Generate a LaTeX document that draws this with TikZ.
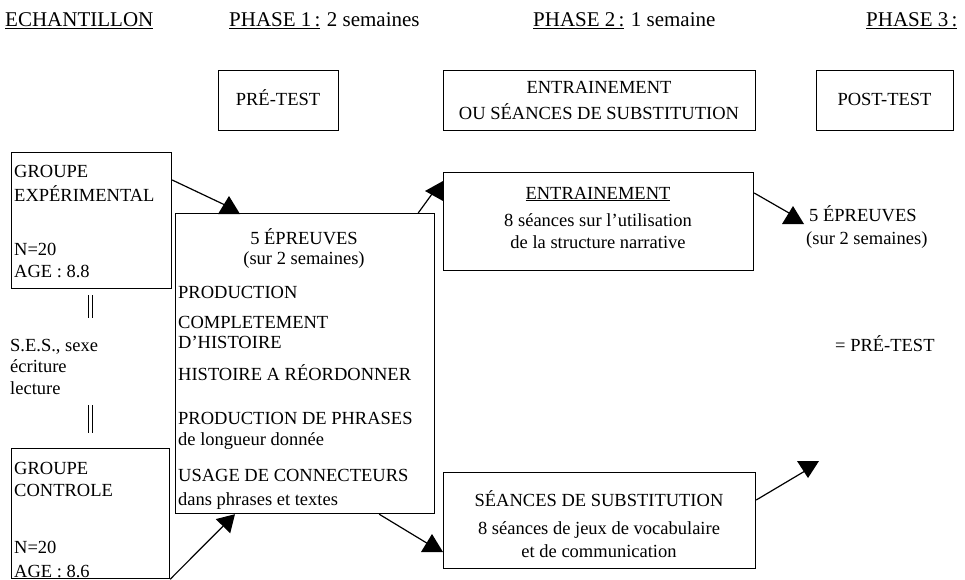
\documentclass[tikz,border=0pt]{standalone}
\usepackage{fontspec}
\setmainfont{Liberation Serif}
\usetikzlibrary{arrows.meta,calc}
\begin{document}
\begin{tikzpicture}[x=1pt,y=-1pt,
  box/.style={draw,line width=1.2pt,inner sep=0pt,anchor=north west},
  txt/.style={inner sep=0pt,anchor=base west,font=\fontsize{18.5}{20}\selectfont},
  ctxt/.style={inner sep=0pt,anchor=base,font=\fontsize{18.5}{20}\selectfont},
  ttl/.style={inner sep=0pt,anchor=base west,font=\fontsize{21}{25}\selectfont},
  ln/.style={line width=1.2pt},
  arr/.style={line width=1.2pt,-{Triangle[length=17pt,width=20pt]}},
  dbl/.style={line width=0.8pt},
  uptri/.pic={\fill (-11,0) -- (11,0) -- (0,-18) -- cycle;},
  dntri/.pic={\fill (-11,0) -- (11,0) -- (0,17) -- cycle;},
  lftri/.pic={\fill (0,-10) -- (0,10) -- (-18,0) -- cycle;}]
\useasboundingbox (0,0) rectangle (965,580);
% titles
\node[ttl] (t0) at (5,27) {\underline{ECHANTILLON}};
\node[ttl] (t1) at (229,27) {\underline{PHASE 1\hspace{0.15em}:}};
\node[ttl,anchor=base west] (t1b) at ([xshift=6pt]t1.base east) {2 semaines};
\node[ttl] (t2) at (533,27) {\underline{PHASE 2\hspace{0.15em}:}};
\node[ttl,anchor=base west] (t2b) at ([xshift=6pt]t2.base east) {1 semaine};
\node[ttl] (t3) at (866,27) {\underline{PHASE 3\hspace{0.15em}:}};
% top boxes
\node[box,minimum width=120pt,minimum height=60pt] (pre) at (218,70) {};
\node[ctxt] (pret) at (278,106) {PRÉ-TEST};
\node[box,minimum width=312pt,minimum height=60pt] (eo) at (443,70) {};
\node[ctxt] (eot1) at (599,94) {ENTRAINEMENT};
\node[ctxt] (eot2) at (599,120) {OU SÉANCES DE SUBSTITUTION};
\node[box,minimum width=137pt,minimum height=60pt] (post) at (816,70) {};
\node[ctxt] (postt) at (884.5,106) {POST-TEST};
% experimental group
\node[box,minimum width=160pt,minimum height=136pt] (exp) at (11,152) {};
\node[txt] (e1) at (14,178) {GROUPE};
\node[txt] (e2) at (14,201) {EXPÉRIMENTAL};
\node[txt] (e3) at (14,255) {N=20};
\node[txt] (e4) at (14,277) {AGE : 8.8};
\draw[dbl] (88,295) -- (88,318) (92,295) -- (92,318);
\node[txt] (s1) at (10,351) {S.E.S., sexe};
\node[txt] (s2) at (10,372) {écriture};
\node[txt] (s3) at (10,394) {lecture};
\draw[dbl] (88,405) -- (88,433) (92,405) -- (92,433);
% control group
\node[box,minimum width=158pt,minimum height=130pt] (ctl) at (11,448) {};
\node[txt] (c1) at (14,474) {GROUPE};
\node[txt] (c2) at (14,496) {CONTROLE};
\node[txt] (c3) at (14,553) {N=20};
\node[txt] (c4) at (14,577) {AGE : 8.6};
% pre-test tasks
\node[box,minimum width=259pt,minimum height=300pt] (big) at (175,213) {};
\node[ctxt] (b1) at (304,244) {5 ÉPREUVES};
\node[ctxt] (b2) at (304,264) {(sur 2 semaines)};
\node[txt] (b3) at (178,298) {PRODUCTION};
\node[txt] (b4) at (178,328) {COMPLETEMENT};
\node[txt] (b5) at (178,348) {D'HISTOIRE};
\node[txt] (b6) at (178,380) {HISTOIRE A RÉORDONNER};
\node[txt] (b7) at (178,424) {PRODUCTION DE PHRASES};
\node[txt] (b8) at (178,445) {de longueur donnée};
\node[txt] (b9) at (178,481) {USAGE DE CONNECTEURS};
\node[txt] (b10) at (178,505) {dans phrases et textes};
% training
\node[box,minimum width=310pt,minimum height=98pt] (ent) at (443,172) {};
\node[ctxt] (n1) at (598,199) {\underline{ENTRAINEMENT}};
\node[ctxt] (n2) at (598,226) {8 séances sur l'utilisation};
\node[ctxt] (n3) at (598,248) {de la structure narrative};
% substitution
\node[box,minimum width=312pt,minimum height=96pt] (sub) at (443,472) {};
\node[ctxt] (u1) at (599,506) {SÉANCES DE SUBSTITUTION};
\node[ctxt] (u2) at (599,534) {8 séances de jeux de vocabulaire};
\node[ctxt] (u3) at (599,557) {et de communication};
% post-test side
\node[txt] (p1) at (809,221) {5 ÉPREUVES};
\node[txt] (p2) at (806,244) {(sur 2 semaines)};
\node[txt] (p3) at (835,351) {= PRÉ-TEST};
% arrow ends
\coordinate (l1) at (225,205);
\coordinate (l3) at (432,194);
\coordinate (l4) at (430,545);
\coordinate (l5) at (789,213);
\coordinate (l6) at (805,471);
% arrows
\draw[ln] ([yshift=-28pt]exp.north east) -- (l1);
\pic at (229,214) {uptri};
\draw[arr] (ctl.south east) -- ([xshift=60pt]big.south west);
\draw[ln] ([xshift=-17pt]big.north east) -- (l3);
\pic at (443,191) {lftri};
\draw[ln] ([xshift=-56pt]big.south east) -- (l4);
\pic at (432,552) {uptri};
\draw[ln] ([yshift=-21pt]ent.north east) -- (l5);
\pic at (793,224) {uptri};
\draw[ln] ([yshift=-28pt]sub.north east) -- (l6);
\pic at (808,461) {dntri};
\end{tikzpicture}
\end{document}
